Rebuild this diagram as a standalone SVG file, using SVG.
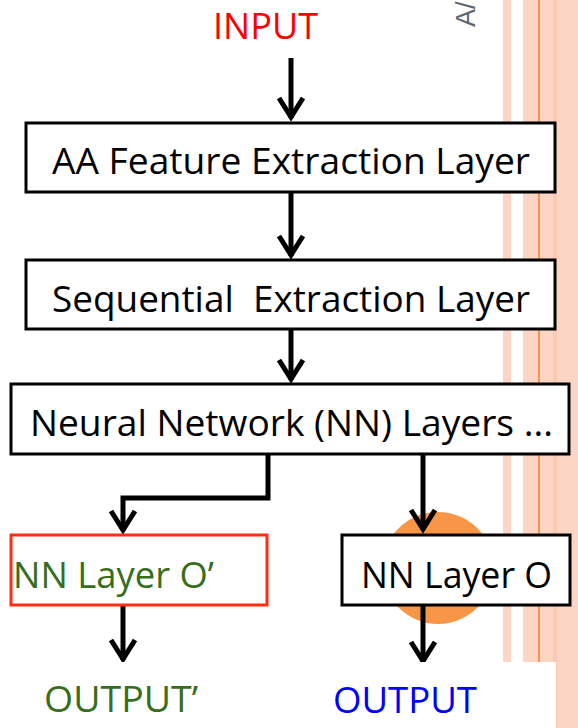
<svg xmlns="http://www.w3.org/2000/svg" width="578" height="728" viewBox="0 0 578 728">
  <style>
    .box { fill: #ffffff; stroke: #000000; stroke-width: 3; }
    .lbl { font-family: "Open Sans", "Liberation Sans", sans-serif; font-size: 37px; fill: #000000; white-space: pre; }
    .big { font-family: "Open Sans", "Liberation Sans", sans-serif; font-size: 36px; }
    .wire { fill: none; stroke: #000000; stroke-width: 5; stroke-linejoin: miter; }
  </style>
  <defs>
    <marker id="chev" markerUnits="userSpaceOnUse" markerWidth="30" markerHeight="30" refX="26" refY="13" orient="auto" overflow="visible">
      <path d="M6,1 L25,13 L6,25" fill="none" stroke="#000000" stroke-width="5"/>
    </marker>
  </defs>

  <rect width="578" height="728" fill="#ffffff"/>

  <!-- slide side stripes -->
  <g id="stripes">
    <rect x="503" y="0" width="8" height="728" fill="#fdd5c4"/>
    <rect x="523" y="0" width="55" height="728" fill="#fdd5c4"/>
    <rect x="553" y="0" width="4" height="728" fill="#fbc8b1"/>
    <rect x="538" y="0" width="2" height="728" fill="#f79646"/>
  </g>

  <text transform="translate(475,27) rotate(-90)" font-family="Liberation Sans, sans-serif" font-size="27" fill="#5f6774">A/</text>

  <circle cx="438" cy="568" r="56" fill="#f79646"/>

  <g id="connectors">
    <path class="wire" d="M291,58 V118" marker-end="url(#chev)"/>
    <path class="wire" d="M291,193 V256" marker-end="url(#chev)"/>
    <path class="wire" d="M291,330 V380" marker-end="url(#chev)"/>
    <path class="wire" d="M268,455 V498 H123 V531" marker-end="url(#chev)"/>
    <path class="wire" d="M423,455 V530" marker-end="url(#chev)"/>
    <path class="wire" d="M123,606 V660" marker-end="url(#chev)"/>
    <path class="wire" d="M423,606 V662" marker-end="url(#chev)"/>
  </g>

  <g id="input">
    <text class="big" x="213" y="39" fill="#ff0000" textLength="105" lengthAdjust="spacingAndGlyphs">INPUT</text>
  </g>

  <g id="aa-feature">
    <rect class="box" x="26" y="123" width="529" height="69"/>
    <text class="lbl" x="52" y="174" textLength="478" lengthAdjust="spacingAndGlyphs">AA Feature Extraction Layer</text>
  </g>

  <g id="sequential">
    <rect class="box" x="26" y="260" width="529" height="69"/>
    <text class="lbl" x="52" y="312" textLength="478" lengthAdjust="spacingAndGlyphs">Sequential  Extraction Layer</text>
  </g>

  <g id="nn-layers">
    <rect class="box" x="11" y="384" width="558" height="70"/>
    <text class="lbl" x="30" y="436" textLength="523" lengthAdjust="spacingAndGlyphs">Neural Network (NN) Layers ...</text>
  </g>

  <g id="nn-layer-o-prime">
    <rect x="11" y="535" width="256" height="70" fill="#ffffff" stroke="#ff2e12" stroke-width="3"/>
    <text class="lbl" x="13" y="588" style="fill:#376e1c" textLength="201" lengthAdjust="spacingAndGlyphs">NN Layer O’</text>
  </g>

  <g id="nn-layer-o">
    <rect class="box" x="342" y="535" width="228" height="70"/>
    <text class="lbl" x="361" y="588" textLength="191" lengthAdjust="spacingAndGlyphs">NN Layer O</text>
  </g>

  <!-- output labels sit on a white panel -->
  <rect x="0" y="662" width="556" height="66" fill="#ffffff"/>

  <g id="output-prime">
    <text class="big" x="44" y="712" fill="#376e1c" textLength="154" lengthAdjust="spacingAndGlyphs">OUTPUT’</text>
  </g>

  <g id="output">
    <text class="big" x="333" y="713" fill="#0000ff" textLength="144" lengthAdjust="spacingAndGlyphs">OUTPUT</text>
  </g>
</svg>
